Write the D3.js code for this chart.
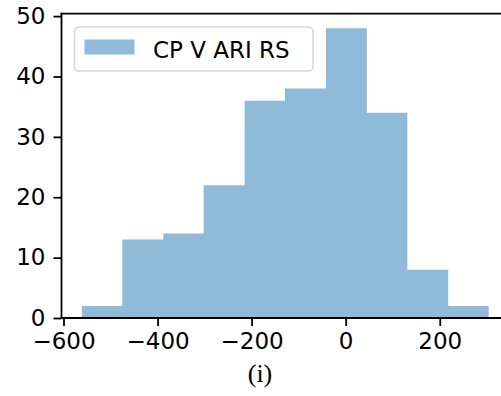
<!DOCTYPE html>
<html>
<head>
<meta charset="utf-8">
<script src="https://cdn.jsdelivr.net/npm/d3@7"></script>
<style>
  html, body { margin: 0; padding: 0; background: #fff; }
  svg { display: block; }
</style>
</head>
<body>
<svg id="chart" width="501" height="396"></svg>
<script>
// ---- data ----
const binEdges = [-561, -475, -388, -302, -215, -129, -42, 45, 131, 218, 304];
const counts   = [2, 13, 14, 22, 36, 38, 48, 34, 8, 2];
const xTicks   = [-600, -400, -200, 0, 200];
const yTicks   = [0, 10, 20, 30, 40, 50];
const seriesName = "CP V ARI RS";
const caption = "(i)";

// ---- layout ----
const svg = d3.select("#chart");
const plotL = 61.5, plotR = 509, plotB = 318, plotT = 13.7;
const x = d3.scaleLinear().domain([-604.25, 347.25]).range([plotL, plotR]);
const y = d3.scaleLinear().domain([0, 50.4]).range([plotB, plotT]);
const font = "DejaVu Sans, sans-serif";
const fs = 23;

const bins = counts.map((c, i) => ({x0: binEdges[i], x1: binEdges[i + 1], c}));

// bars drawn as one outline path so there are no seams between neighbours
const histPath = d3.path();
histPath.moveTo(x(bins[0].x0), y(0));
bins.forEach(b => {
  histPath.lineTo(x(b.x0), y(b.c));
  histPath.lineTo(x(b.x1), y(b.c));
});
histPath.lineTo(x(bins[bins.length - 1].x1), y(0));
histPath.closePath();
svg.append("path")
  .attr("d", histPath.toString())
  .attr("fill", "#1f77b4")
  .attr("fill-opacity", 0.5);

// axes
const xAxis = svg.append("g").attr("transform", `translate(0,${plotB})`)
  .call(d3.axisBottom(x).tickValues(xTicks).tickSize(8).tickPadding(7).tickSizeOuter(0)
    .tickFormat(d => d3.format("d")(d).replace("-", "\u2212")));
const yAxis = svg.append("g").attr("transform", `translate(${plotL},0)`)
  .call(d3.axisLeft(y).tickValues(yTicks).tickSize(8).tickPadding(8).tickSizeOuter(0));

[xAxis, yAxis].forEach(g => {
  g.selectAll("path.domain").remove();
  g.selectAll(".tick line").attr("stroke", "#000").attr("stroke-width", 1.8);
  g.selectAll(".tick text").attr("fill", "#000").style("font-family", font).style("font-size", fs + "px");
});

// spines
const spine = (x1, y1, x2, y2) => svg.append("line")
  .attr("x1", x1).attr("y1", y1).attr("x2", x2).attr("y2", y2)
  .attr("stroke", "#000").attr("stroke-width", 1.8).attr("stroke-linecap", "square");
spine(plotL, plotT, plotL, plotB);
spine(plotL, plotT, plotR, plotT);
spine(plotL, plotB, plotR, plotB);

// legend
const lg = svg.append("g");
lg.append("rect").attr("x", 74.5).attr("y", 27).attr("width", 238.5).attr("height", 44)
  .attr("rx", 4.6).attr("ry", 4.6)
  .attr("fill", "#fff").attr("fill-opacity", 0.8)
  .attr("stroke", "#cccccc").attr("stroke-opacity", 0.8).attr("stroke-width", 1.6);
lg.append("rect").attr("x", 84.5).attr("y", 39.5).attr("width", 50).attr("height", 15)
  .attr("fill", "#1f77b4").attr("fill-opacity", 0.5);
lg.append("text").attr("x", 153).attr("y", 57.5)
  .style("font-family", font).style("font-size", fs + "px").attr("fill", "#000")
  .text(seriesName);

// caption
svg.append("text").attr("x", 260).attr("y", 382).attr("text-anchor", "middle")
  .style("font-family", "Liberation Serif, Times New Roman, serif").style("font-size", "26px")
  .attr("fill", "#000").text(caption);
</script>
</body>
</html>
